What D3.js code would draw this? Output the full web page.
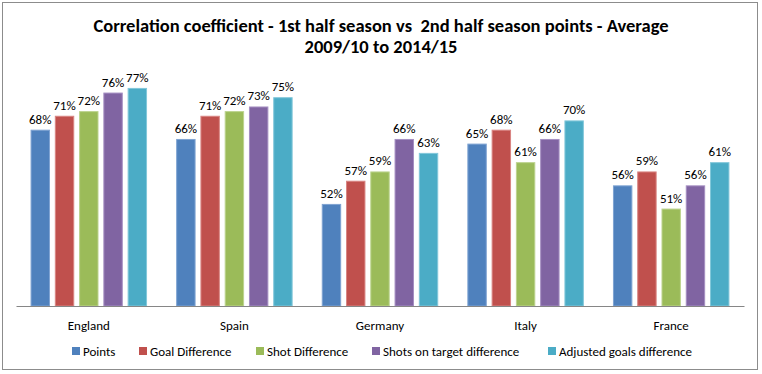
<!DOCTYPE html>
<html>
<head>
<meta charset="utf-8">
<script src="https://cdn.jsdelivr.net/npm/d3@7"></script>
<style>
  body { margin: 0; background: #fff; }
  text { font-family: Carlito, Calibri, Lato, "Open Sans", sans-serif; fill: #000; }
</style>
</head>
<body>
<div id="chart"></div>
<script>
var countries = ["England", "Spain", "Germany", "Italy", "France"]
var seriesNames = ["Points", "Goal Difference", "Shot Difference", "Shots on target difference", "Adjusted goals difference"]
var colors = ["#4F81BD", "#C0504D", "#9BBB59", "#8064A2", "#4BACC6"]
var strokes = ["#7FA3D2", "#D98583", "#BCD38E", "#A58FC2", "#82C7DA"]

// one array per series, in country order
var points = [0.68, 0.66, 0.52, 0.65, 0.56]
var goalDiff = [0.71, 0.71, 0.57, 0.68, 0.59]
var shotDiff = [0.72, 0.72, 0.59, 0.61, 0.51]
var shotsOnTarget = [0.76, 0.73, 0.66, 0.66, 0.56]
var adjustedGoals = [0.77, 0.75, 0.63, 0.70, 0.61]
var allSeries = [points, goalDiff, shotDiff, shotsOnTarget, adjustedGoals]

var titleLines = ["Correlation coefficient - 1st half season vs  2nd half season points - Average", "2009/10 to 2014/15"]

var width = 762
var height = 374

var svg = d3.select("#chart").append("svg").attr("width", width).attr("height", height)

// outer frame
svg.append("rect")
    .attr("x", 2.5).attr("y", 2.5)
    .attr("width", 755).attr("height", 367)
    .attr("fill", "#fff")
    .attr("stroke", "#8c8c8c")

svg.selectAll(".title")
    .data(titleLines)
    .enter()
    .append("text")
    .attr("class", "title")
    .attr("x", 381)
    .attr("y", (d, i) => 32 + i * 21)
    .attr("text-anchor", "middle")
    .style("font-size", "18.5px")
    .style("font-weight", "bold")
    .style("white-space", "pre")
    .text(d => d)

var x0 = d3.scaleBand().domain(countries).range([16, 744])
var x1 = d3.scaleBand().domain(d3.range(5)).range([0, x0.bandwidth() * 0.8]).paddingInner(0.2)
var y = d3.scaleLinear().domain([0.3, 0.8]).range([306, 74])

var groups = svg.selectAll(".country")
    .data(countries)
    .enter()
    .append("g")
    .attr("class", "country")
    .attr("transform", d => "translate(" + (x0(d) + x0.bandwidth() * 0.1) + ",0)")

groups.selectAll("rect")
    .data((d, ci) => allSeries.map((s, si) => ({ si: si, v: s[ci] })))
    .enter()
    .append("rect")
    .attr("x", d => x1(d.si) + 0.5)
    .attr("y", d => y(d.v) + 0.5)
    .attr("width", x1.bandwidth() - 1)
    .attr("height", d => y(0.3) - y(d.v) - 0.5)
    .attr("fill", d => colors[d.si])
    .attr("stroke", d => strokes[d.si])
    .attr("stroke-width", 1)

groups.selectAll(".lbl")
    .data((d, ci) => allSeries.map((s, si) => ({ si: si, v: s[ci] })))
    .enter()
    .append("text")
    .attr("class", "lbl")
    .attr("x", d => x1(d.si) + x1.bandwidth() / 2)
    .attr("y", d => y(d.v) - 6)
    .attr("text-anchor", "middle")
    .style("font-size", "13px")
    .text(d => d3.format(".0%")(d.v))

// category axis
var xAxis = svg.append("g")
    .attr("transform", "translate(0,306)")
    .call(d3.axisBottom(x0).tickSize(0).tickPadding(15))
xAxis.select(".domain").attr("stroke", "#868686").attr("stroke-width", 1.2)
xAxis.selectAll("text").style("font-size", "13px")
    .style("font-family", "Carlito, Calibri, Lato, 'Open Sans', sans-serif")

// legend
var legendX = [72, 139, 256, 372, 548]
var legend = svg.selectAll(".legend")
    .data(seriesNames)
    .enter()
    .append("g")
    .attr("class", "legend")
    .attr("transform", (d, i) => "translate(" + legendX[i] + ",347)")
legend.append("rect")
    .attr("width", 8).attr("height", 8)
    .attr("fill", (d, i) => colors[i])
legend.append("text")
    .attr("x", 11).attr("y", 8.5)
    .style("font-size", "13px")
    .text(d => d)
</script>
</body>
</html>
